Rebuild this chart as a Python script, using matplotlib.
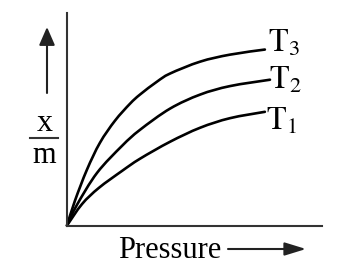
import matplotlib
matplotlib.use("Agg")
import matplotlib.pyplot as plt
import numpy as np
from matplotlib.lines import Line2D
from matplotlib.path import Path
from matplotlib.patches import PathPatch, FancyArrowPatch

# Freundlich adsorption isotherms, x/m vs pressure (arbitrary units, 0-10)
pressure_t3 = [0, 0.31, 0.78, 1.29, 1.88, 2.47, 2.86, 3.53, 4.04, 5.22, 6.39, 7.76]
xm_t3 = [0, 1.16, 2.62, 3.89, 4.93, 5.73, 6.16, 6.77, 7.15, 7.71, 8.04, 8.28]

pressure_t2 = [0, 0.39, 1.18, 2.16, 2.86, 4.04, 5.22, 6.39, 7.96]
xm_t2 = [0, 0.97, 2.48, 3.75, 4.50, 5.50, 6.16, 6.56, 6.86]

pressure_t1 = [0, 0.59, 1.25, 2.16, 2.86, 4.04, 5.22, 6.39, 7.76]
xm_t1 = [0, 1.01, 1.77, 2.57, 3.14, 3.94, 4.60, 5.05, 5.35]

labels = [r"$\mathrm{T}_3$", r"$\mathrm{T}_2$", r"$\mathrm{T}_1$"]

W, H = 340, 279
plt.rcParams["font.family"] = ["Liberation Serif", "DejaVu Serif"]
plt.rcParams["mathtext.fontset"] = "stix"

fig = plt.figure(figsize=(W / 100, H / 100), dpi=100)


def fx(px):
    return px / W


def fy(py):
    return 1 - py / H


def smooth_path(xs, ys):
    # draws the read points joined by Catmull-Rom style Bezier segments
    pts = np.column_stack([xs, ys]).astype(float)
    ext = np.vstack([pts[0], pts, pts[-1]])
    verts = [pts[0]]
    codes = [Path.MOVETO]
    for i in range(1, len(ext) - 2):
        p0, p1, p2, p3 = ext[i - 1], ext[i], ext[i + 1], ext[i + 2]
        verts += [p1 + (p2 - p0) / 6, p2 - (p3 - p1) / 6, p2]
        codes += [Path.CURVE4] * 3
    return Path(verts, codes)


ax = fig.add_axes([fx(67), fy(225.5), fx(322) - fx(67), fy(13) - fy(225.5)])
ax.set_xlim(0, 10)
ax.set_ylim(0, 10)
ax.set_xticks([])
ax.set_yticks([])
for side in ["top", "right"]:
    ax.spines[side].set_visible(False)
for side in ["left", "bottom"]:
    ax.spines[side].set_linewidth(1.5)
    ax.spines[side].set_color("#333333")
ax.patch.set_alpha(0)

series = [(pressure_t3, xm_t3), (pressure_t2, xm_t2), (pressure_t1, xm_t1)]
label_offsets = [(3, -2), (-1, -9), (1, -18)]  # pixels from curve end
for (p, v), lab, (dx, dy) in zip(series, labels, label_offsets):
    ax.add_patch(PathPatch(smooth_path(p, v), fc="none", ec="black", lw=1.9,
                           capstyle="round", clip_on=False))
    ax.annotate(lab, xy=(p[-1], v[-1]), xytext=(dx, dy), textcoords="offset pixels",
                ha="left", va="baseline", fontsize=23, annotation_clip=False)

# y label as a fraction x/m with an upward arrow
fig.text(fx(45), fy(131), "x", ha="center", va="baseline", fontsize=23)
fig.add_artist(Line2D([fx(30), fx(58)], [fy(138), fy(138)], color="#333333", lw=1.5))
fig.text(fx(44), fy(163), "m", ha="center", va="baseline", fontsize=22)
fig.add_artist(FancyArrowPatch(
    (fx(47), fy(93)), (fx(47), fy(27)), transform=fig.transFigure,
    arrowstyle="-|>,head_length=0.55,head_width=0.24", mutation_scale=20,
    color="#222222", lw=1.5, shrinkA=0, shrinkB=0))

# x label with a right arrow
fig.text(fx(118), fy(258), "Pressure", ha="left", va="baseline", fontsize=22)
fig.add_artist(FancyArrowPatch(
    (fx(228), fy(249)), (fx(306), fy(249)), transform=fig.transFigure,
    arrowstyle="-|>,head_length=0.65,head_width=0.2", mutation_scale=20,
    color="#222222", lw=1.5, shrinkA=0, shrinkB=0))

fig.savefig("out.png", dpi=100)
